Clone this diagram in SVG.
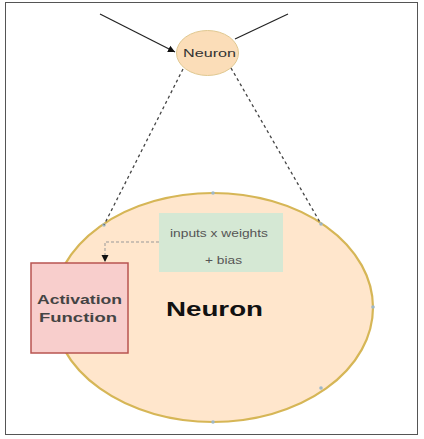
<svg xmlns="http://www.w3.org/2000/svg" width="424" height="439" viewBox="0 0 424 439">
<defs>
<marker id="ah" markerWidth="8" markerHeight="8" refX="7" refY="4" orient="auto" markerUnits="userSpaceOnUse"><path d="M0,0.5 L7,4 L0,7.5 Z" fill="#111"/></marker>
<style>
.ln{stroke:#222;stroke-width:1.2;fill:none}
.dash{stroke:#444;stroke-width:1.3;fill:none;stroke-dasharray:3 3}
.dash2{stroke:#999;stroke-width:1;fill:none;stroke-dasharray:3 2}
.pt{fill:#9fb8c8;stroke:none}
text{font-family:"Liberation Sans",Arial,sans-serif}
</style>
</defs>
<rect x="0" y="0" width="424" height="439" fill="#fff"/>
<rect x="5.5" y="2.5" width="412" height="432" fill="none" stroke="#555" stroke-width="1"/>
<g id="neuron-big">
<ellipse cx="213" cy="307.5" rx="160" ry="114.5" fill="#FFE6CC" stroke="#D6B656" stroke-width="2.2"/>
<text x="166" y="316" font-size="20" font-weight="bold" textLength="97" lengthAdjust="spacingAndGlyphs" fill="#111">Neuron</text>
<circle class="pt" cx="213" cy="193" r="1.8"/><circle class="pt" cx="104" cy="225" r="1.8"/><circle class="pt" cx="321" cy="224" r="1.8"/><circle class="pt" cx="373" cy="307" r="1.8"/><circle class="pt" cx="321" cy="388" r="1.8"/><circle class="pt" cx="213" cy="422" r="1.8"/>
</g>
<g id="neuron-small">
<ellipse cx="207.5" cy="53" rx="31" ry="22.5" fill="#FBDDB8" stroke="#E0C890" stroke-width="1"/>
<text x="183" y="57" font-size="10" textLength="53" lengthAdjust="spacingAndGlyphs" fill="#333">Neuron</text>
</g>
<g id="sum">
<rect x="159" y="213" width="124" height="59" fill="#D5E8D4"/>
<text x="170" y="237" font-size="10.5" textLength="98" lengthAdjust="spacingAndGlyphs" fill="#555">inputs x weights</text>
<text x="205" y="264" font-size="10.5" textLength="37" lengthAdjust="spacingAndGlyphs" fill="#555">+ bias</text>
</g>
<g id="activation">
<rect x="31" y="263" width="97" height="90" fill="#F8CECC" stroke="#B85450" stroke-width="1.5"/>
<text x="37" y="304" font-size="13" font-weight="bold" textLength="85" lengthAdjust="spacingAndGlyphs" fill="#444">Activation</text>
<text x="39" y="322" font-size="13" font-weight="bold" textLength="78" lengthAdjust="spacingAndGlyphs" fill="#444">Function</text>
</g>
<g id="connectors">
<line class="ln" x1="100" y1="14" x2="175" y2="52" marker-end="url(#ah)"/>
<line class="ln" x1="288" y1="14" x2="235" y2="39"/>
<line class="dash" x1="183" y1="69" x2="104" y2="225"/>
<line class="dash" x1="231" y1="68" x2="321" y2="224"/>
<polyline class="dash2" points="159,242 105,242 105,262" marker-end="url(#ah)"/>
</g>
</svg>
